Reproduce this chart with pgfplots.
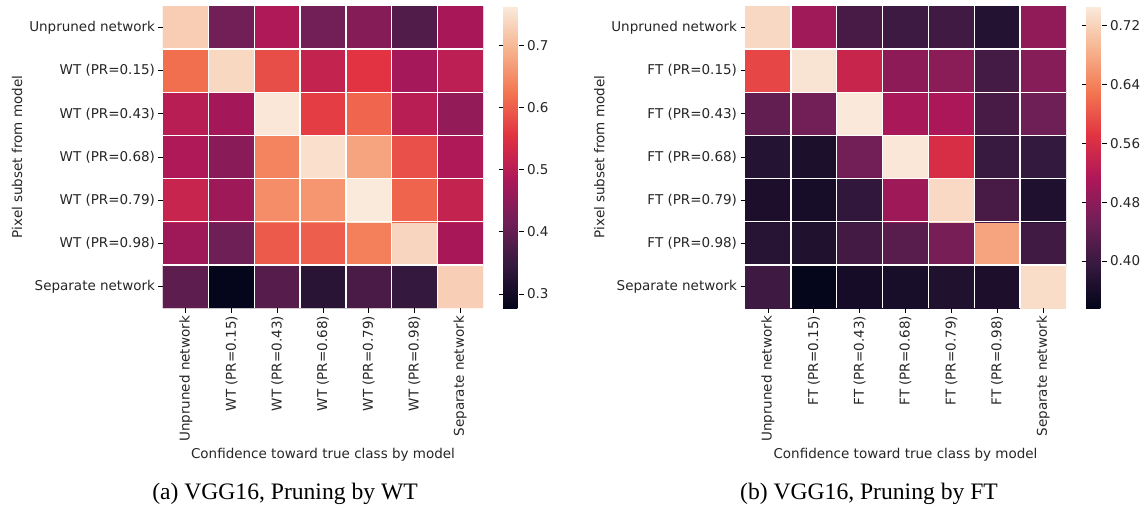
\documentclass[border=0pt]{standalone}
\usepackage{fontspec}
\setmainfont{DejaVu Sans}
\newfontfamily\capfont{Liberation Serif}
\usepackage{pgfplots}
\usepackage{pgfplotstable}
\pgfplotsset{compat=1.18}
\definecolor{txt}{gray}{0.15}
\pgfplotsset{colormap={rocket}{rgb255=(3,5,26) rgb255=(53,25,62) rgb255=(112,31,87) rgb255=(173,23,89) rgb255=(225,51,66) rgb255=(243,118,81) rgb255=(246,180,143) rgb255=(250,235,221)}}

% columns: x (model for confidence), y (6 - row index), c (value)
\pgfplotstableread{
x y c
0 0 0.395
1 0 0.280
2 0 0.385
3 0 0.330
4 0 0.370
5 0 0.345
6 0 0.728
0 1 0.470
1 1 0.413
2 1 0.595
3 1 0.600
4 1 0.635
5 1 0.735
6 1 0.480
0 2 0.520
1 2 0.468
2 2 0.650
3 2 0.660
4 2 0.762
5 2 0.605
6 2 0.515
0 3 0.490
1 3 0.445
2 3 0.640
3 3 0.748
4 3 0.675
5 3 0.585
6 3 0.490
0 4 0.500
1 4 0.475
2 4 0.758
3 4 0.565
4 4 0.607
5 4 0.500
6 4 0.455
0 5 0.617
1 5 0.739
2 5 0.583
3 5 0.515
4 5 0.555
5 5 0.476
6 5 0.505
0 6 0.725
1 6 0.420
2 6 0.490
3 6 0.420
4 6 0.440
5 6 0.380
6 6 0.480
}\datWT

\pgfplotstableread{
x y c
0 0 0.404
1 0 0.338
2 0 0.358
3 0 0.362
4 0 0.370
5 0 0.366
6 0 0.732
0 1 0.378
1 1 0.370
2 1 0.408
3 1 0.430
4 1 0.460
5 1 0.673
6 1 0.406
0 2 0.366
1 2 0.360
2 2 0.390
3 2 0.497
4 2 0.728
5 2 0.414
6 2 0.368
0 3 0.376
1 3 0.365
2 3 0.455
3 3 0.743
4 3 0.560
5 3 0.398
6 3 0.394
0 4 0.440
1 4 0.455
2 4 0.745
3 4 0.508
4 4 0.510
5 4 0.414
6 4 0.450
0 5 0.587
1 5 0.739
2 5 0.542
3 5 0.480
4 5 0.478
5 5 0.410
6 5 0.475
0 6 0.727
1 6 0.500
2 6 0.414
3 6 0.402
4 6 0.406
5 6 0.373
6 6 0.484
}\datFT

\pgfplotsset{
  hm/.style={
    anchor=south west, scale only axis, height=302pt,
    xmin=-0.5, xmax=6.5, ymin=-0.5, ymax=6.5, enlargelimits=false,
    axis line style={draw=none},
    tick pos=left, tick align=outside, major tick length=4.5pt,
    tick style={black, line width=0.8pt},
    xtick={0,...,6}, ytick={0,...,6},
    minor xtick={0.5,1.5,...,5.5}, minor ytick={0.5,1.5,...,5.5},
    minor tick length=0pt,
    grid=minor, minor grid style={white, line width=1.3pt},
    axis on top,
    x tick label style={rotate=90, anchor=east},
    font=\fontsize{13.5}{16}\selectfont, text=txt,
    xlabel={Confidence toward true class by model},
    ylabel={Pixel subset from model},
    colormap name=rocket,
    colorbar,
  },
  cb/.style={
    at={(parent axis.north east)}, anchor=north west, xshift=11.5pt,
    scale only axis, width=16pt, height=302pt,
    axis line style={draw=none},
    tick align=outside, major tick length=4.5pt,
    tick style={black, line width=0.8pt},
    font=\fontsize{13.5}{16}\selectfont, text=txt,
    /pgf/number format/assume math mode=true,
  },
}

\begin{document}
\begin{tikzpicture}[x=1pt,y=1pt]
\useasboundingbox (0,0) rectangle (1146,-508);

\begin{axis}[hm,
  at={(163pt,-308pt)}, width=320pt,
  xticklabels={Unpruned network, WT (PR=0.15), WT (PR=0.43), WT (PR=0.68), WT (PR=0.79), WT (PR=0.98), Separate network},
  yticklabels={Separate network, WT (PR=0.98), WT (PR=0.79), WT (PR=0.68), WT (PR=0.43), WT (PR=0.15), Unpruned network},
  point meta min=0.2775, point meta max=0.763,
  colorbar style={cb, ytick={0.3,0.4,0.5,0.6,0.7},
    yticklabel style={/pgf/number format/.cd, fixed, fixed zerofill, precision=1, assume math mode=true}},
]
\addplot[matrix plot*, mesh/cols=7, point meta=explicit] table[x=x, y=y, meta=c] {\datWT};
\end{axis}

\begin{axis}[hm,
  at={(745pt,-308pt)}, width=321pt,
  xticklabels={Unpruned network, FT (PR=0.15), FT (PR=0.43), FT (PR=0.68), FT (PR=0.79), FT (PR=0.98), Separate network},
  yticklabels={Separate network, FT (PR=0.98), FT (PR=0.79), FT (PR=0.68), FT (PR=0.43), FT (PR=0.15), Unpruned network},
  point meta min=0.336, point meta max=0.747,
  colorbar style={cb, ytick={0.40,0.48,0.56,0.64,0.72},
    yticklabel style={/pgf/number format/.cd, fixed, fixed zerofill, precision=2, assume math mode=true}},
]
\addplot[matrix plot*, mesh/cols=7, point meta=explicit] table[x=x, y=y, meta=c] {\datFT};
\end{axis}

\node[anchor=base, font=\capfont\fontsize{23.6}{28}\selectfont] at (285,-499) {(a) VGG16, Pruning by WT};
\node[anchor=base, font=\capfont\fontsize{23.6}{28}\selectfont] at (869,-499) {(b) VGG16, Pruning by FT};
\end{tikzpicture}
\end{document}
